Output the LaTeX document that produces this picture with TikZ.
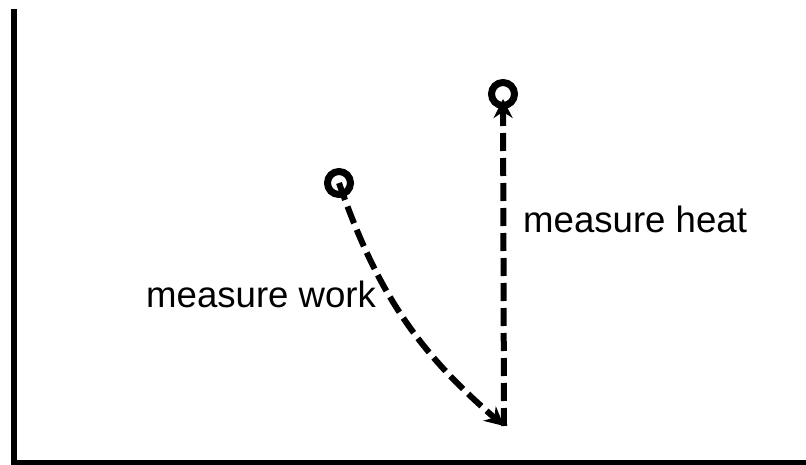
\documentclass[tikz,border=0pt]{standalone}
\usepackage{fontspec}
\setmainfont{Liberation Sans}
\usetikzlibrary{arrows.meta}

\begin{document}
\begin{tikzpicture}[x=1pt,y=-1pt,>={Stealth[length=19pt,width=19pt]},
  every node/.style={font=\fontsize{36.6}{44}\selectfont},
  state/.style={draw,circle,line width=7pt,minimum size=23pt,inner sep=0pt},
  flow/.style={->,line width=6pt,dash pattern=on 18pt off 7pt},
  lbl/.style={inner sep=0pt,anchor=base west}]
\useasboundingbox (0,0) rectangle (806,465);
% axes
\coordinate (corner) at (13.5,462.5);
\draw[line width=6pt] (13.5,9) -- (corner) -- (806,462.5);
\node[state] (start) at (339,183) {};
\node[state] (top) at (503,94) {};
\coordinate (low) at (504,426);
\draw[flow] (start.center) to[bend right=15] (low);
\draw[flow,shorten >=5pt] (low) -- (top.center);
\node[lbl] (work) at (146,307) {measure work};
\node[lbl] (heat) at (523,233) {measure heat};
\end{tikzpicture}
\end{document}
